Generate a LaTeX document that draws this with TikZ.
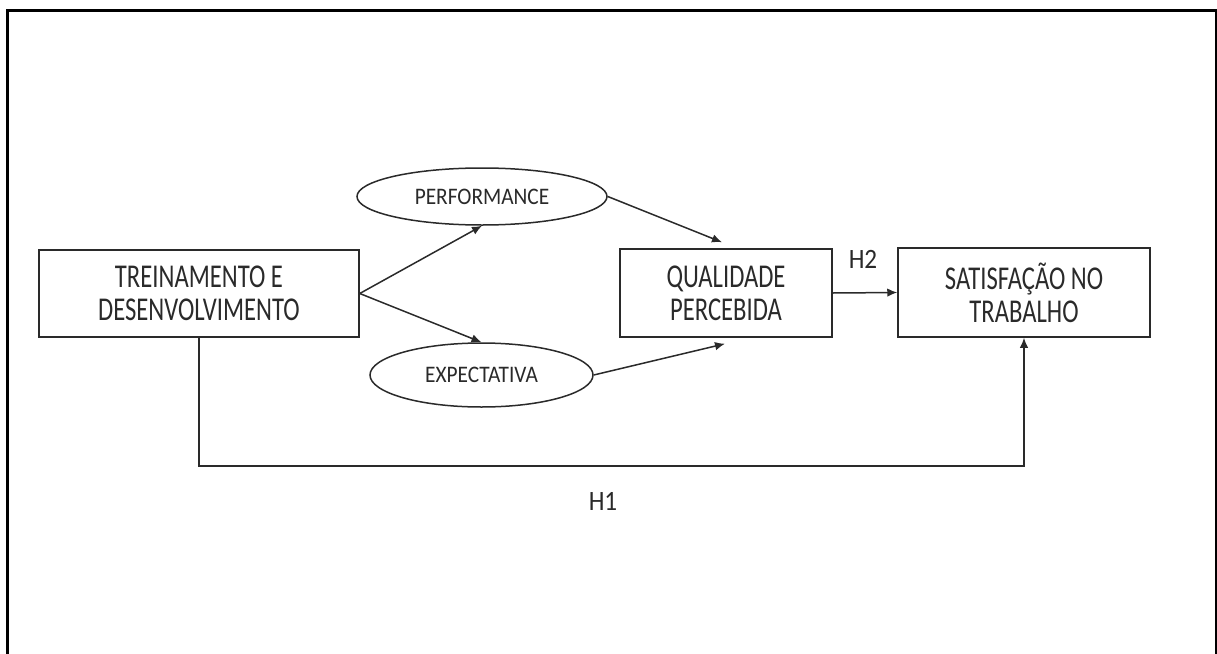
\documentclass[tikz,border=0pt]{standalone}
\usepackage{fontspec}
\setmainfont{Carlito}
\newfontfamily\boxfont[FakeStretch=0.74]{Carlito}
\newfontfamily\ellfont[FakeStretch=0.9]{Carlito}
\usetikzlibrary{shapes.geometric,arrows.meta,calc}
\definecolor{ink}{HTML}{2A2A2A}
\tikzset{
  boxnode/.style={draw=ink, line width=1.5pt, rectangle, inner sep=0pt, align=center, text=ink,
    font=\boxfont\fontsize{33.3}{33}\selectfont},
  ellnode/.style={draw=ink, line width=1.5pt, ellipse, inner sep=0pt, text=ink,
    font=\ellfont\fontsize{23.7}{26}\selectfont},
  lbl/.style={text=ink, inner sep=0pt, font=\ellfont\fontsize{28}{30}\selectfont},
  conn/.style={draw=ink, line width=1.5pt, -{Latex[length=10pt,width=8.5pt]}}
}
\begin{document}
\begin{tikzpicture}[x=1pt,y=-1pt]
\useasboundingbox (0,0) rectangle (1217,653);
\draw[black, line width=3pt] (7,665) -- (7,10) -- (1216,10) -- (1216,665);

\node[boxnode, minimum width=320pt, minimum height=87pt] (tre) at (199,293.5) {TREINAMENTO E\\DESENVOLVIMENTO};
\node[boxnode, minimum width=212pt, minimum height=88pt] (qual) at (726,293) {QUALIDADE\\PERCEBIDA};
\node[boxnode, minimum width=252pt, minimum height=89pt] (sat) at (1024,292.5) {SATISFAÇÃO NO\\TRABALHO};

\node[ellnode, minimum width=250pt, minimum height=57pt] (perf) at (482,196.5) {PERFORMANCE};
\node[ellnode, minimum width=223pt, minimum height=64pt] (expt) at (481.5,375) {EXPECTATIVA};

\node[lbl] (h2) at (863,259) {H2};
\node[lbl] (h1) at (603,501) {H1};

\coordinate (pq) at ($(qual.north)+(-4pt,6pt)$);
\coordinate (eq) at ($(qual.south)+(-1pt,-6pt)$);
\coordinate (h1y) at (600,466);

\draw[conn] (tre.east) -- (perf.south);
\draw[conn] (tre.east) -- (expt.north);
\draw[conn] (perf.east) -- (pq);
\draw[conn] (expt.east) -- (eq);
\draw[conn] (qual.east) -- (sat.west);
\draw[conn] (tre.south) |- (h1y) -| (sat.south);
\end{tikzpicture}
\end{document}
